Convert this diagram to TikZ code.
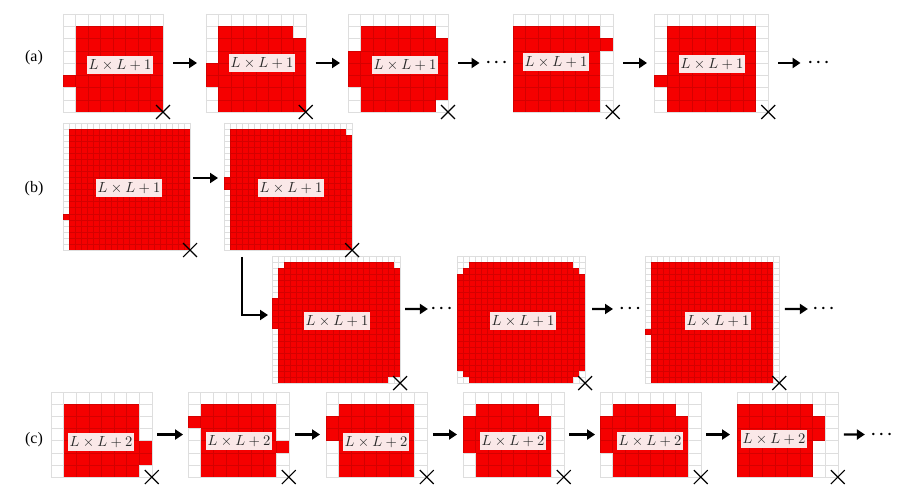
\documentclass[tikz,border=0pt]{standalone}
\usepackage{fontspec}
\setmainfont{Liberation Serif}
\usetikzlibrary{arrows.meta,shapes.misc}
\definecolor{cellred}{RGB}{245,0,0}
\definecolor{lblfill}{RGB}{250,232,232}
\definecolor{lbltext}{RGB}{40,40,40}
\tikzset{
  gridline/.style={line width=0.3pt,draw=black,opacity=0.13},
  frame/.style={draw=none,inner sep=0pt,outer sep=0pt},
  xmark/.style={cross out,draw=black,line width=0.9pt,minimum size=9.5pt,inner sep=0pt},
  lbl/.style={fill=lblfill,text=lbltext,inner xsep=1.5pt,inner ysep=2.2pt,font=\fontsize{10.5}{12}\selectfont},
  arr/.style={line width=1.7pt,-{Triangle[length=6pt,width=7.5pt]}},
  dots/.style={inner sep=0pt,font=\fontsize{11.5}{13}\selectfont\boldmath},
  tag/.style={inner sep=0pt,font=\fontsize{12}{14}\selectfont}
}
% #1 name, #2 x, #3 y, #4 cols, #5 rows, #6 cell w, #7 cell h, #8 red rectangles c1/r1/c2/r2
\newcommand\grd[8]{%
  \begin{scope}[shift={(#2,#3)},xscale=#6,yscale=#7]
    \foreach \ca/\ra/\cb/\rb in {#8}{\fill[cellred] (\ca,\ra) rectangle (\cb,\rb);}
    \draw[gridline] \foreach \i in {0,...,#4}{(\i,0) -- (\i,#5)} \foreach \j in {0,...,#5}{(0,\j) -- (#4,\j)};
  \end{scope}
  \node[frame,anchor=north west,minimum width={#4*#6*0.75pt},minimum height={#5*#7*0.75pt}] (#1) at (#2,#3) {};
  \node[xmark] (#1x) at (#1.south east) {};
}
\begin{document}
\begin{tikzpicture}[x=0.75pt,y=-0.75pt]
\useasboundingbox (0,0) rectangle (898,488);
\fill[white] (0,0) rectangle (898,488);

% ---------- row (a)
\node[tag] (ta) at (34,58) {(a)};
\grd{a1}{63}{14}{8}{8}{12.5}{12.25}{1/1/8/8, 0/5/1/6}
\grd{a2}{205.7}{14}{8}{8}{12.5}{12.25}{1/1/7/8, 7/2/8/8, 0/4/1/6}
\grd{a3}{348}{14}{8}{8}{12.5}{12.25}{1/1/7/2, 1/2/8/3, 0/3/8/6, 1/6/8/7, 1/7/7/8}
\grd{a4}{512.7}{14}{8}{8}{12.5}{12.25}{0/1/7/8, 7/2/8/3}
\grd{a5}{654}{14}{9}{8}{12.7}{12.25}{1/1/8/8, 0/5/1/6}
\node[lbl] (a1l) at (120,65) {$L\times L+1$};
\node[lbl] (a2l) at (262,63) {$L\times L+1$};
\node[lbl] (a3l) at (405,65) {$L\times L+1$};
\node[lbl] (a4l) at (556,62) {$L\times L+1$};
\node[lbl] (a5l) at (712,64) {$L\times L+1$};
\node[dots] (a3d) at (496.5,63) {$\cdots$};
\node[dots] (a5d) at (818.5,63) {$\cdots$};
\draw[arr,shorten <=7.5pt,shorten >=6.5pt] (a1.east) -- (a2.west);
\draw[arr,shorten <=7.5pt,shorten >=6pt] (a2.east) -- (a3.west);
\draw[arr,shorten <=7.5pt,shorten >=4.5pt] (a3.east) -- (a3d.west);
\draw[arr,shorten <=7.8pt,shorten >=5.2pt] (a4.east) -- (a5.west);
\draw[arr,shorten <=7.5pt,shorten >=5.2pt] (a5.east) -- (a5d.west);

% ---------- row (b)
\node[tag] (tb) at (34,189) {(b)};
\grd{b1}{63}{123}{21}{21}{6.05}{6.05}{1/1/21/21, 0/15/1/16}
\grd{b2}{224}{123}{21}{21}{6.1}{6.05}{1/1/20/21, 20/2/21/21, 0/9/1/11}
\grd{b3}{272}{256}{21}{21}{6.1}{6.05}{2/1/20/2, 1/2/21/20, 1/20/19/21, 0/7/1/12}
\grd{b4}{457}{256}{21}{21}{6.1}{6.05}{2/1/19/2, 1/2/20/3, 0/3/21/19, 1/19/20/20, 2/20/19/21}
\grd{b5}{645}{256}{22}{21}{6.1}{6.05}{1/1/21/21, 0/12/1/13}
\node[lbl] (b1l) at (129,188) {$L\times L+1$};
\node[lbl] (b2l) at (291,188) {$L\times L+1$};
\node[lbl] (b3l) at (337,321) {$L\times L+1$};
\node[lbl] (b4l) at (523,321) {$L\times L+1$};
\node[lbl] (b5l) at (718,321) {$L\times L+1$};
\node[dots] (b3d) at (441.5,309) {$\cdots$};
\node[dots] (b4d) at (630,309) {$\cdots$};
\node[dots] (b5d) at (823.5,309) {$\cdots$};
\draw[arr,shorten <=2.3pt,shorten >=4.5pt] ([yshift=6.4pt]b1.east) -- ([yshift=6.4pt]b2.west);
\draw[arr] ([xshift=13.5pt,yshift=-5.2pt]b2.south west) |- ([xshift=-3pt,yshift=3.4pt]b3.west);
\draw[arr,shorten <=3.7pt,shorten >=2pt] ([yshift=7.9pt]b3.east) -- (b3d.west);
\draw[arr,shorten <=5.2pt,shorten >=4.5pt] ([yshift=7.9pt]b4.east) -- (b4d.west);
\draw[arr,shorten <=4.3pt,shorten >=3.5pt] ([yshift=7.9pt]b5.east) -- (b5d.west);

% ---------- row (c)
\node[tag] (tc) at (34,440) {(c)};
\grd{c1}{51}{392}{8}{7}{12.6}{12.15}{1/1/7/7, 7/4/8/6}
\grd{c2}{188}{392}{8}{7}{12.6}{12.15}{1/1/7/7, 0/2/1/3, 7/4/8/5}
\grd{c3}{326}{392}{8}{7}{12.6}{12.15}{1/1/7/7, 0/2/1/4}
\grd{c4}{463}{392}{8}{7}{12.6}{12.15}{1/1/6/2, 0/2/7/5, 1/5/7/7}
\grd{c5}{600}{392}{8}{7}{12.6}{12.15}{1/1/6/2, 0/2/7/5, 1/5/7/7}
\grd{c6}{737}{392}{8}{7}{12.6}{12.15}{0/1/6/7, 6/2/7/4}
\node[lbl] (c1l) at (101,442) {$L\times L+2$};
\node[lbl] (c2l) at (239,441) {$L\times L+2$};
\node[lbl] (c3l) at (376,442) {$L\times L+2$};
\node[lbl] (c4l) at (513,441) {$L\times L+2$};
\node[lbl] (c5l) at (650,441) {$L\times L+2$};
\node[lbl] (c6l) at (774,439) {$L\times L+2$};
\node[dots] (c6d) at (881.5,434.5) {$\cdots$};
\draw[arr,shorten <=3.9pt,shorten >=3.7pt] (c1.east) -- (c2.west);
\draw[arr,shorten <=4.6pt,shorten >=4.5pt] (c2.east) -- (c3.west);
\draw[arr,shorten <=4.6pt,shorten >=4.5pt] (c3.east) -- (c4.west);
\draw[arr,shorten <=3.9pt,shorten >=3.7pt] (c4.east) -- (c5.west);
\draw[arr,shorten <=3.9pt,shorten >=5.2pt] (c5.east) -- (c6.west);
\draw[arr,shorten <=4.6pt,shorten >=4.2pt] (c6.east) -- (c6d.west);
\end{tikzpicture}
\end{document}
